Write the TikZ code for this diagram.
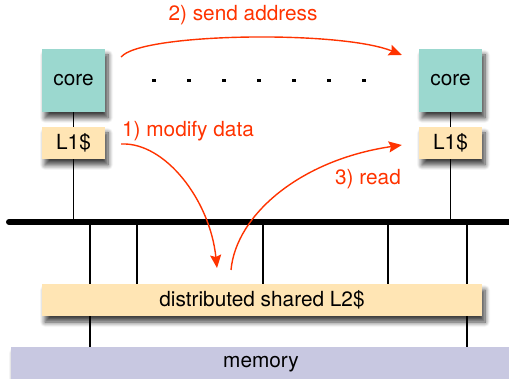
\documentclass[tikz,border=0pt]{standalone}
\usepackage{fontspec}
\setmainfont{TeX Gyre Heros}
\usetikzlibrary{arrows.meta,shadows.blur}
\definecolor{coregreen}{RGB}{155,216,207}
\definecolor{cacheyellow}{RGB}{255,229,180}
\definecolor{memblue}{RGB}{200,200,225}
\definecolor{msgred}{RGB}{255,51,0}
\begin{document}
\begin{tikzpicture}[x=1pt,y=-1pt,
		box/.style={inner sep=0pt,font=\fontsize{20.8}{24}\selectfont,
			blur shadow={shadow xshift=3pt,shadow yshift=-6pt,shadow blur steps=8,shadow blur radius=5pt,shadow opacity=75}},
		corebox/.style={box,fill=coregreen,minimum width=63pt,minimum height=63pt},
		cachebox/.style={box,fill=cacheyellow,minimum height=32pt},
		wire/.style={line width=1.2pt},
		msg/.style={draw=msgred,line width=1.4pt,-{Stealth[length=13pt,width=11pt,inset=2pt]}},
		msglabel/.style={text=msgred,font=\fontsize{20.8}{24}\selectfont}]
	\useasboundingbox (0,0) rectangle (509,379);
	\clip (0,0) rectangle (509,379);
	\node[corebox] (coreA) at (73.5,80.5) {core};
	\node[corebox] (coreB) at (450.5,80.5) {core};
	\node[cachebox,minimum width=63pt] (lA) at (73.5,143) {L1\$};
	\node[cachebox,minimum width=63pt] (lB) at (450.5,143) {L1\$};
	\node[cachebox,minimum width=440pt] (ltwo) at (262,300) {distributed shared L2\$};
	\node[box,fill=memblue,minimum width=500pt,minimum height=34pt] (mem) at (261,364) {memory};
	\coordinate (busL) at (9,222);
	\coordinate (busR) at (520,222);
	\draw[line width=6pt,line cap=round] (busL) -- (busR);
	\draw[wire] (coreA) -- (lA);
	\draw[wire] (coreB) -- (lB);
	\draw[wire] (lA) -- (lA |- busL);
	\draw[wire] (lB) -- (lB |- busL);
	\foreach \tx in {137,263,388}
		\draw[wire] (busL -| \tx,0) -- (ltwo.north -| \tx,0);
	\foreach \tx in {90,467}{
		\draw[wire] (busL -| \tx,0) -- (ltwo.north -| \tx,0);
		\draw[wire] (ltwo.south -| \tx,0) -- (mem.north -| \tx,0);
	}
	\foreach \k in {0,...,6}
		\fill (154+35*\k-2,79.5) rectangle (154+35*\k+2,82.5);
	\draw[msg] ([xshift=16pt]coreA.east |- 0,57) .. controls (140,33) and (340,30) .. ([xshift=-17pt]coreB.west |- 0,55);
	\node[msglabel] (sendlbl) at (243,15) {2) send address};
	\draw[msg] ([xshift=16pt]lA.east |- 0,144) .. controls (165,142) and (210,200) .. (217,268);
	\node[msglabel] (modlbl) at (188,131) {1) modify data};
	\draw[msg] (231,270) .. controls (236,215) and (300,160) .. ([xshift=-17pt]lB.west |- 0,145);
	\node[msglabel] (readlbl) at (368,179) {3) read};
\end{tikzpicture}
\end{document}
